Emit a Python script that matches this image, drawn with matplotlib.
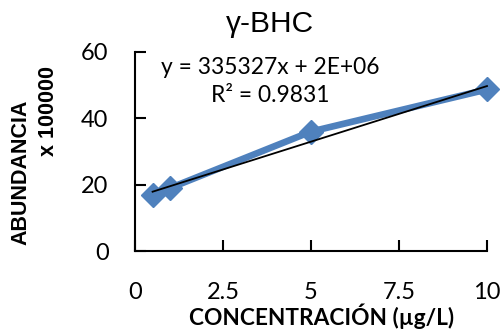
import numpy as np
import matplotlib
matplotlib.use("Agg")
import matplotlib.pyplot as plt

# Calibration data for gamma-BHC
conc = [0.5, 1, 5, 10]                 # µg/L
abundance = [17.0, 19.0, 36.0, 48.7]   # x 100000

# Linear regression as reported
trend_slope = 335327        # counts per µg/L
trend_intercept = 1.62e6    # counts
r_squared = 0.9831
scale = 100000

x_ticks = [0, 2.5, 5, 7.5, 10]
x_tick_labels = ["0", "2.5", "5", "7.5", "10"]
y_ticks = [0, 20, 40, 60]

fig = plt.figure(figsize=(5.03, 3.30), dpi=100)
ax = fig.add_axes([135 / 503, 1 - 251 / 330, 352 / 503, 199 / 330])

blue = "#4F81BD"
ax.plot(conc, abundance, color=blue, lw=4.8, marker="D", ms=12.5,
        mec=blue, mfc=blue, solid_joinstyle="round", zorder=2, clip_on=False)

xf = np.array([min(conc), max(conc)])
ax.plot(xf, (trend_slope * xf + trend_intercept) / scale, color="black", lw=1.3,
        zorder=3, clip_on=False)

ax.set_xlim(0, 10)
ax.set_ylim(0, 60)
ax.set_xticks(x_ticks)
ax.set_xticklabels(x_tick_labels)
ax.set_yticks(y_ticks)

for s in ["top", "right"]:
    ax.spines[s].set_visible(False)
for s in ["left", "bottom"]:
    ax.spines[s].set_linewidth(1.5)

ax.tick_params(axis="both", direction="in", length=8, width=1.5,
               labelsize=17, labelfontfamily="Lato")
ax.tick_params(axis="x", pad=22)
ax.tick_params(axis="y", pad=19)

fig.text(270 / 503, 1 - 24 / 330, "γ-BHC", ha="center", va="center",
         fontsize=21.5, family="Liberation Sans")

eq = f"y = {trend_slope:d}x + {trend_intercept:.0E}"
fig.text(270 / 503, 1 - 68 / 330, eq, ha="center", va="center",
         fontsize=16.4, family="Lato")
fig.text(270 / 503, 1 - 96 / 330, f"R² = {r_squared:.4f}", ha="center", va="center",
         fontsize=16.4, family="Lato")

fig.text(322 / 503, 1 - 316 / 330, "CONCENTRACIÓN (µg/L)", ha="center", va="center",
         fontsize=16.3, family="Lato", weight="bold")
fig.text(21 / 503, 1 - 172 / 330, "ABUNDANCIA", ha="center", va="center",
         rotation=90, fontsize=15.5, family="Liberation Sans", weight="bold")
fig.text(48 / 503, 1 - 111 / 330, "x 100000", ha="center", va="center",
         rotation=90, fontsize=15.5, family="Liberation Sans", weight="bold")

fig.savefig("out.png", dpi=100)
